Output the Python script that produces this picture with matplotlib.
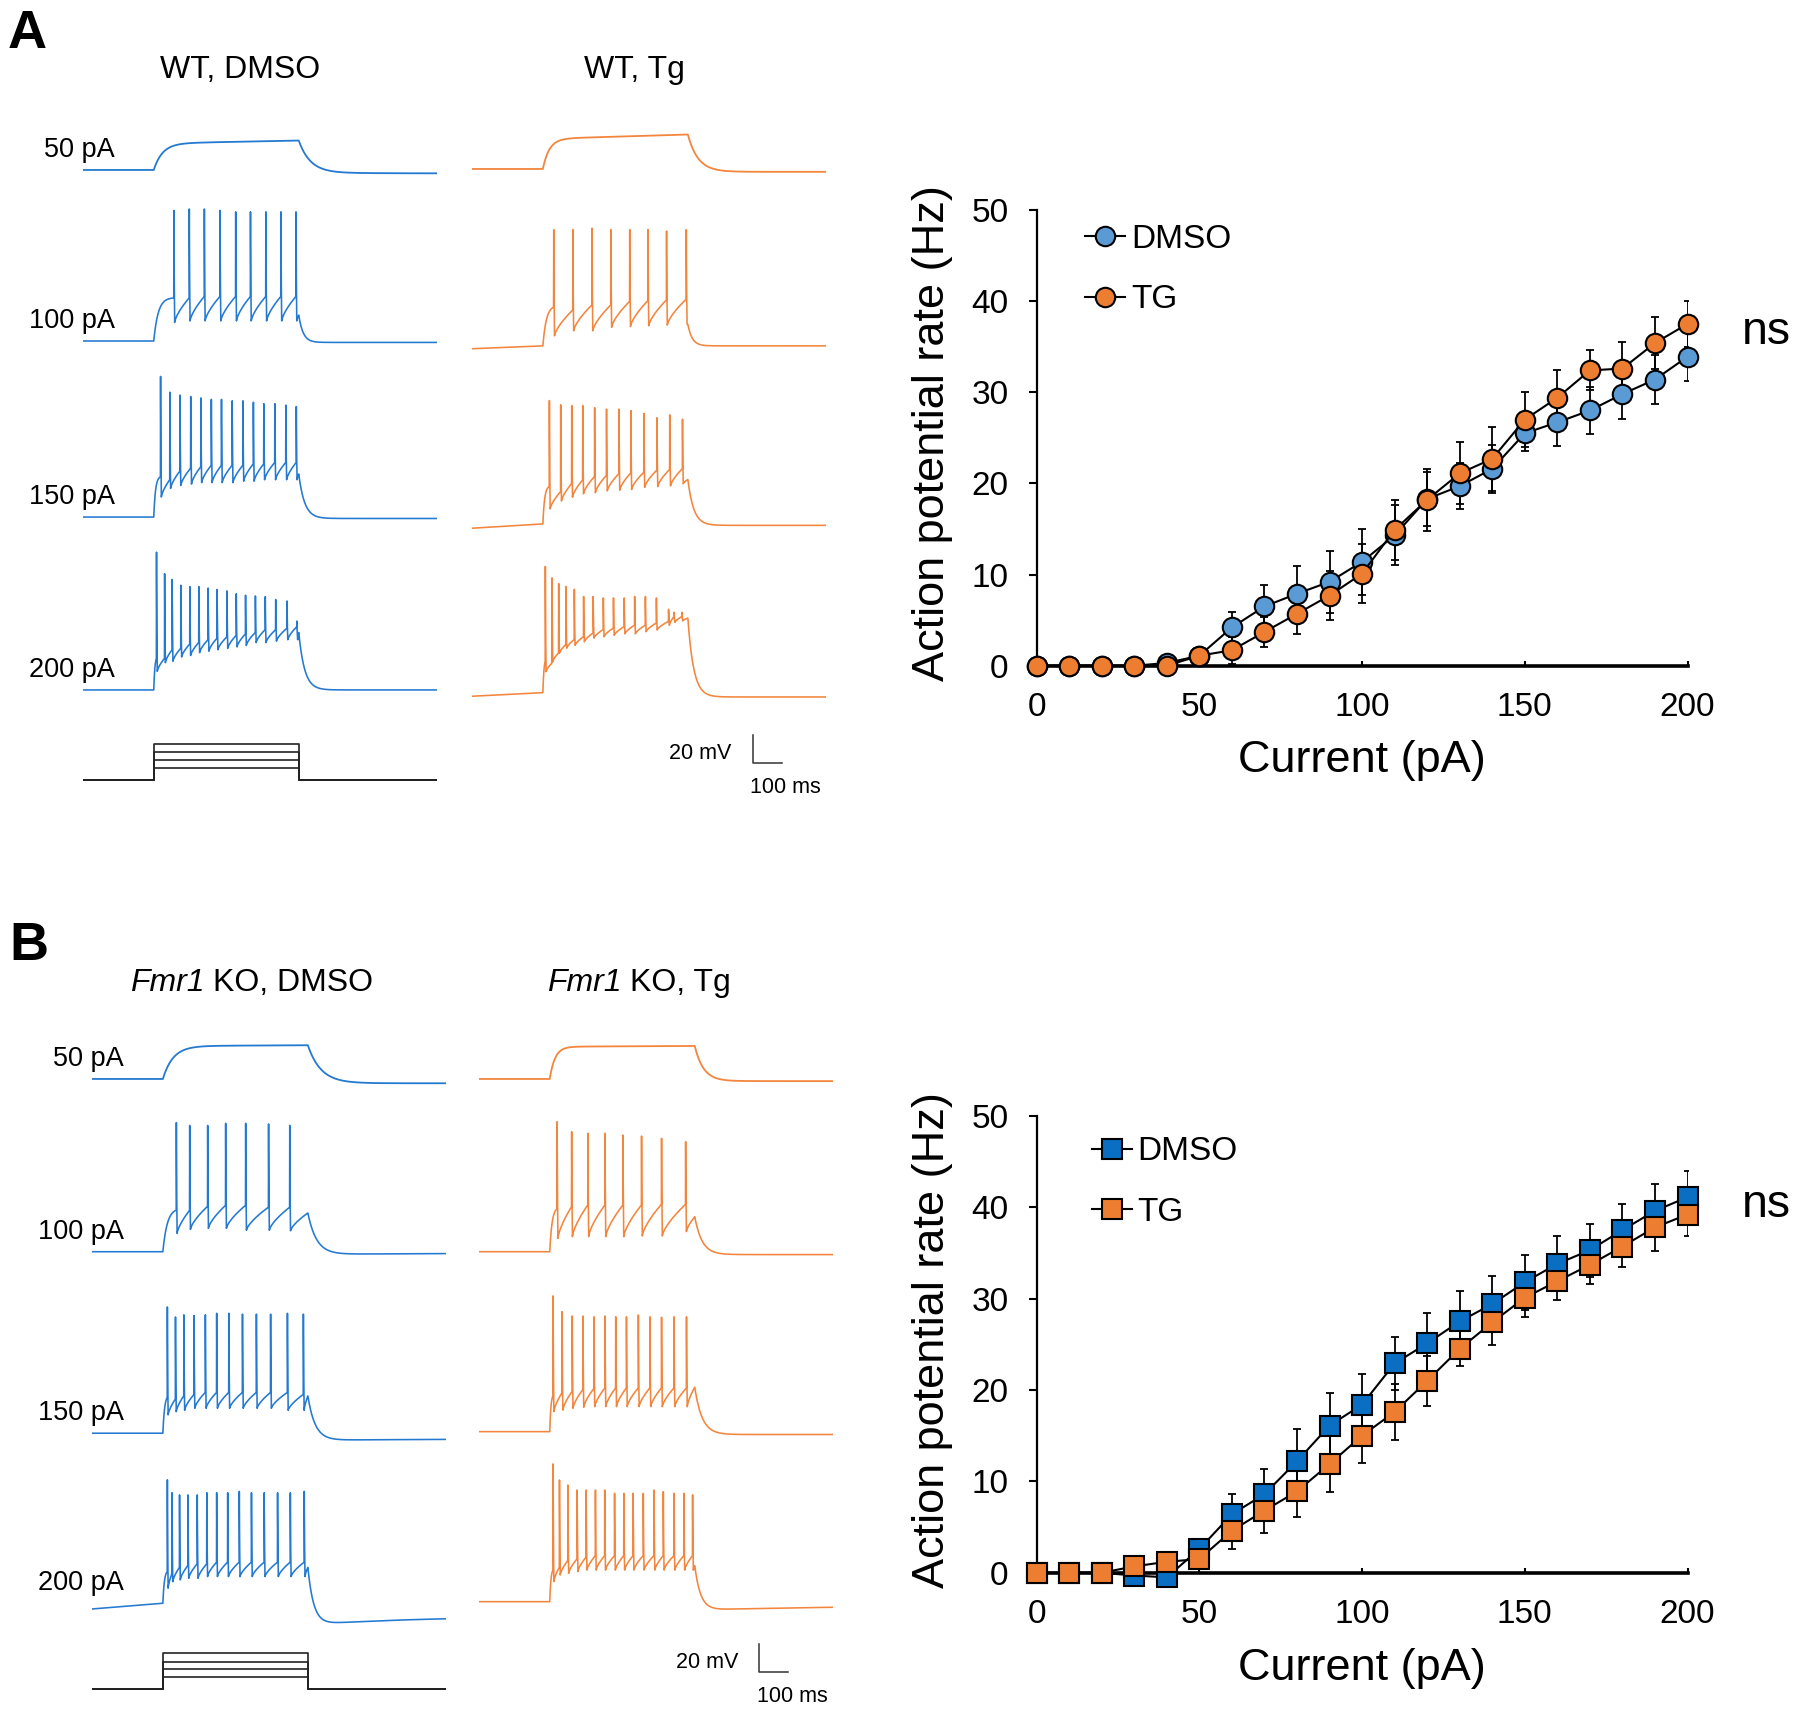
import numpy as np
import matplotlib
matplotlib.use('Agg')
import matplotlib.pyplot as plt

plt.rcParams['font.family'] = ['Liberation Sans', 'DejaVu Sans']

# ---------------- F-I curve data ----------------
current = [0, 10, 20, 30, 40, 50, 60, 70, 80, 90, 100, 110, 120, 130, 140, 150, 160, 170, 180, 190, 200]

wt_dmso = [0, 0, 0, 0, 0.3, 1.1, 4.2, 6.5, 7.9, 9.2, 11.4, 14.3, 18.3, 19.7, 21.6, 25.5, 26.7, 28.0, 29.8, 31.4, 33.9]
wt_dmso_sem = [0, 0, 0, 0, 0.3, 0.5, 1.7, 2.4, 3.0, 3.4, 3.6, 3.3, 3.0, 2.5, 2.6, 1.9, 2.6, 2.6, 2.7, 2.7, 2.7]
wt_tg = [0, 0, 0, 0, 0, 1.1, 1.7, 3.7, 5.7, 7.7, 10.1, 14.9, 18.2, 21.1, 22.7, 27.0, 29.4, 32.4, 32.6, 35.4, 37.5]
wt_tg_sem = [0, 0, 0, 0, 0, 0.5, 1.5, 1.6, 2.2, 2.7, 3.2, 3.3, 3.4, 3.4, 3.5, 3.0, 3.0, 2.2, 2.9, 2.9, 2.5]

ko_dmso = [0, 0, 0, -0.3, -0.5, 2.6, 6.4, 8.6, 12.2, 16.1, 18.4, 22.9, 25.1, 27.5, 29.4, 31.8, 33.8, 35.3, 37.5, 39.6, 41.1]
ko_dmso_sem = [0, 0, 0, 0.3, 0.3, 0.8, 2.2, 2.8, 3.5, 3.6, 3.3, 2.9, 3.3, 3.3, 3.1, 3.0, 3.0, 2.9, 2.8, 2.9, 2.9]
ko_tg = [0, 0, 0, 0.7, 1.2, 1.5, 4.6, 6.8, 8.9, 11.9, 15.0, 17.6, 21.0, 24.5, 27.4, 30.1, 31.9, 33.7, 35.7, 37.8, 39.2]
ko_tg_sem = [0, 0, 0, 0.5, 0.5, 0.8, 2.0, 2.5, 2.8, 3.1, 3.0, 3.1, 2.7, 1.9, 2.5, 2.1, 2.0, 2.1, 2.2, 2.6, 2.4]

xticks = [0, 50, 100, 150, 200]
yticks = [0, 10, 20, 30, 40, 50]
step_labels = ['50 pA', '100 pA', '150 pA', '200 pA']

# ---------------- example traces ----------------
# 50 pA passive responses: plateau start / end (mV above rest)
wt_dmso_plateau = [18.5, 20.5]
wt_tg_plateau = [21.0, 24.0]
ko_dmso_plateau = [23.0, 23.5]
ko_tg_plateau = [22.5, 23.0]

# spike times (ms after step onset), peak and trough (mV above rest) for 100/150/200 pA
wt_dmso_spk = [[69, 122, 174, 228, 282, 333, 386, 438, 490],
               [23, 55, 90, 127, 162, 198, 233, 270, 307, 343, 379, 417, 455, 491],
               [9, 37, 63, 93, 124, 155, 187, 218, 252, 284, 316, 350, 384, 420, 459, 493]]
wt_dmso_pk = [[91, 92, 92, 91, 90, 90, 90, 90, 90],
              [98, 87, 85, 84, 83, 82, 82, 81, 81, 80, 79, 79, 78, 77],
              [96, 81, 77, 73, 72, 72, 71, 70, 69, 67, 66, 65.5, 65, 63, 62, 48]]
wt_dmso_tr = [[13, 14, 14, 14, 14, 14, 14, 14, 14],
              [14, 20, 22, 23, 24, 24, 24, 24, 25, 25, 26, 26, 26, 26],
              [13, 19, 20, 23, 24, 26, 27, 28, 29, 30, 31, 33, 33, 34, 35, 35]]

wt_tg_spk = [[37, 103, 169, 234, 299, 362, 426, 494],
             [22, 61, 99, 137, 178, 219, 262, 303, 348, 393, 437, 481],
             [8, 31, 54, 79, 108, 140, 173, 208, 243, 280, 316, 353, 391, 433, 452, 479]]
wt_tg_pk = [[81, 81, 82, 81, 81, 81, 80, 81],
            [86, 83, 82.5, 82.5, 81, 80, 80, 79, 77, 74, 76, 73],
            [88, 80, 76, 74, 72, 67, 67, 66, 66, 66, 67, 67, 66, 58, 56, 56]]
wt_tg_tr = [[7, 10.5, 10.5, 13, 13.5, 14, 14.5, 15],
            [10.5, 16, 18.6, 21, 21.8, 23, 23.5, 24, 25.5, 26, 26.5, 28],
            [14.6, 21.6, 27.5, 31, 33, 35.5, 38, 39, 40, 41, 41, 42.5, 43.7, 47, 49, 50]]

ko_dmso_spk = [[46, 92, 154, 216, 285, 364, 437],
               [15, 43, 72, 107, 146, 185, 227, 274, 322, 371, 429, 484],
               [15, 31, 57, 86, 118, 151, 185, 223, 263, 305, 349, 395, 439, 487]]
ko_dmso_pk = [[90, 88, 88, 89.5, 89.5, 89, 88],
              [88, 81, 82.5, 82, 82.5, 83.6, 83.6, 83, 83, 83, 83.6, 83],
              [86, 77, 75.5, 75.5, 75.5, 77, 77, 77, 78, 77, 77, 77, 77, 78]]
ko_dmso_tr = [[12.8, 15.6, 16.3, 16.3, 15, 15, 14.6],
              [12.8, 15, 16, 17.4, 17.4, 17.4, 17.4, 17.4, 17.4, 17.4, 16, 16],
              [10.5, 15, 16.3, 17.4, 17.4, 18.6, 18.6, 18.6, 18.6, 18.6, 18.6, 18.6, 18.6, 18.6]]

ko_tg_spk = [[25, 75, 131, 190, 252, 316, 385, 468],
             [11, 42, 77, 114, 152, 190, 227, 264, 305, 345, 385, 428, 471],
             [11, 33, 62, 94, 125, 157, 189, 223, 255, 287, 322, 359, 391, 428, 462, 492]]
ko_tg_pk = [[90.6, 83.6, 82.5, 82.5, 81.3, 80.6, 79, 76.7],
            [94.6, 83.6, 80.6, 80.6, 80, 80.6, 80, 80, 81.3, 80, 79.7, 80, 80],
            [96, 84.8, 81.3, 77.8, 77.8, 77.8, 77.8, 75.5, 75.5, 75.5, 75.5, 77.8, 76.7, 75.5, 75.5, 74.4]]
ko_tg_tr = [[9.3, 10.5, 10.5, 10.5, 10.5, 11, 11, 14],
            [14, 15, 16.3, 17, 17.4, 17.4, 17.4, 17.4, 17.4, 17.4, 17.4, 17.4, 17.4],
            [14, 18.6, 19.8, 21, 22, 22, 22, 22, 22, 22, 22, 22, 22, 22, 22, 22]]

# waveform shape descriptors per row (50, 100, 150, 200 pA):
# first-spike threshold, ramp height, level at step end, rise tau, decay tau,
# post-step undershoot, final rest, pre-step drift
wt_dmso_shape = [(0, 0, 0, 30, 40, -2, -2.5, 0), (30, 17, 18, 15, 15, -1, -1, 0),
                 (28, 12, 30, 6, 20, -1, -1, 0), (22, 9, 40, 4, 20, 0, 0, 0)]
wt_tg_shape = [(0, 0, 0, 22, 35, -2, -2, 0), (27, 18, 15, 12, 15, 0, 0, -2),
               (26, 12, 31, 6, 20, -1, -1, -3), (22, 6, 52, 4, 20, -3, -3, -2.5)]
ko_dmso_shape = [(0, 0, 0, 35, 45, -3, -3, 0), (29, 16, 27, 15, 30, -2, -1, 0),
                 (25, 11, 26, 6, 25, -5, -4, 0), (22, 10, 25, 5, 20, -15, -9, -4)]
ko_tg_shape = [(0, 0, 0, 18, 30, -1.5, -1.5, 0), (30, 22, 24.4, 8, 25, -2, -2, 0),
               (25, 13, 31, 4, 25, -2, -2, 0), (22, 10, 25, 4, 20, -6, -3, 0)]

# vertical placement of each row (mV)
wt_dmso_rows = [0, -119.2, -241.9, -362.4]
wt_tg_rows = [0.7, -122.6, -246.7, -364.3]
ko_dmso_rows = [0, -120.4, -246.9, -365.4]
ko_tg_rows = [0, -120.4, -245.8, -364.3]
stim_levels = [8, 13.5, 19, 25]
STIM_ROW = -425

T_END, ON, DUR = 1220.0, 245.0, 500.0
t = np.arange(0, T_END, 0.2)

BLUE_TR = '#2479d1'
ORANGE_TR = '#f3863e'
A_BLUE = '#5b9bd5'
B_BLUE = '#0a6fc2'
ORANGE = '#ed7d31'


def pre_and_post(v, v_end, decay, under, final, drift):
    off = ON + DUR
    pre = t < ON
    v[pre] = drift * (ON - t[pre]) / ON
    m = t >= off
    dt = t[m] - off
    u = final + (under - final) * np.exp(-dt / 400.0)
    v[m] = u + (v_end - u) * np.exp(-dt / decay)
    return v


def passive_trace(plateau, shape):
    _, _, _, rise, decay, under, final, drift = shape
    v = np.zeros_like(t)
    m = (t >= ON) & (t < ON + DUR)
    lvl = plateau[0] + (plateau[1] - plateau[0]) * (t[m] - ON) / DUR
    v[m] = lvl * (1 - np.exp(-(t[m] - ON) / rise))
    v_end = plateau[1] * (1 - np.exp(-DUR / rise))
    return pre_and_post(v, v_end, decay, under, final, drift)


def spiking_trace(spk, pk, tr, shape):
    thr0, delta, end, rise, decay, under, final, drift = shape
    v = np.zeros_like(t)
    off = ON + DUR
    sa = [ON + s for s in spk]
    m = (t >= ON) & (t < sa[0])
    norm = 1 - np.exp(-(sa[0] - ON) / rise)
    v[m] = thr0 * (1 - np.exp(-(t[m] - ON) / rise)) / norm
    up, down = 0.6, 2.6
    for k, ts in enumerate(sa):
        thr = thr0 if k == 0 else min(tr[k - 1] + delta, pk[k] - 3)
        m = (t >= ts) & (t < ts + up)
        v[m] = thr + (pk[k] - thr) * (t[m] - ts) / up
        m = (t >= ts + up) & (t < ts + up + down)
        v[m] = pk[k] + (tr[k] - pk[k]) * ((t[m] - ts - up) / down) ** 0.6
        ta = ts + up + down
        if k + 1 < len(sa):
            tb = sa[k + 1]
            target = min(tr[k] + delta, pk[k + 1] - 3)
        else:
            tb = off
            target = end
        m = (t >= ta) & (t < tb)
        v[m] = tr[k] + (target - tr[k]) * ((t[m] - ta) / (tb - ta)) ** 0.7
    return pre_and_post(v, end, decay, under, final, drift)


FIG_W = 1800
fig = plt.figure(figsize=(18, 17.14), dpi=100)

TR_YLIM = (-439.1, 41.8)
trace_axes = {
    'wt_dmso': [0.04594, 0.53326, 0.19656, 0.40257],
    'wt_tg': [0.26211, 0.53326, 0.19656, 0.40257],
    'ko_dmso': [0.05100, 0.00292, 0.19656, 0.40257],
    'ko_tg': [0.26594, 0.00292, 0.19656, 0.40257],
}


def draw_column(key, plateau, spk, pk, tr, shapes, rows, color, labels=False, stim=False, scalebar=False):
    ax = fig.add_axes(trace_axes[key])
    ax.set_xlim(0, T_END)
    ax.set_ylim(*TR_YLIM)
    ax.axis('off')
    v = passive_trace(plateau, shapes[0])
    ax.plot(t, v + rows[0], color=color, lw=1.3, solid_joinstyle='round')
    for i in range(3):
        v = spiking_trace(spk[i], pk[i], tr[i], shapes[i + 1])
        ax.plot(t, v + rows[i + 1], color=color, lw=1.15, solid_joinstyle='round')
    if labels:
        for lab, r in zip(step_labels, rows):
            ax.text(110, r + 9, lab, ha='right', va='baseline', fontsize=19.5)
    if stim:
        for lvl in stim_levels:
            ax.plot([0, ON, ON, ON + DUR, ON + DUR, T_END],
                    [STIM_ROW, STIM_ROW, STIM_ROW + lvl, STIM_ROW + lvl, STIM_ROW, STIM_ROW],
                    color='#222222', lw=1.2)
    if scalebar:
        x0, y0 = 968, STIM_ROW + 11.4
        ax.plot([x0, x0, x0 + 100], [y0 + 20, y0, y0], color='#333333', lw=1.1)
        ax.text(x0 - 72, y0 + 3.2, '20 mV', ha='right', va='baseline', fontsize=15.5)
        ax.text(x0 + 112, y0 - 20.8, '100 ms', ha='center', va='baseline', fontsize=15.5)
    return ax


draw_column('wt_dmso', wt_dmso_plateau, wt_dmso_spk, wt_dmso_pk, wt_dmso_tr, wt_dmso_shape,
            wt_dmso_rows, BLUE_TR, labels=True, stim=True)
draw_column('wt_tg', wt_tg_plateau, wt_tg_spk, wt_tg_pk, wt_tg_tr, wt_tg_shape,
            wt_tg_rows, ORANGE_TR, scalebar=True)
draw_column('ko_dmso', ko_dmso_plateau, ko_dmso_spk, ko_dmso_pk, ko_dmso_tr, ko_dmso_shape,
            ko_dmso_rows, BLUE_TR, labels=True, stim=True)
draw_column('ko_tg', ko_tg_plateau, ko_tg_spk, ko_tg_pk, ko_tg_tr, ko_tg_shape,
            ko_tg_rows, ORANGE_TR, scalebar=True)

# titles and panel letters
TITLE_FS = 23
fig.text(0.1336, 0.9545, 'WT, DMSO', ha='center', va='baseline', fontsize=TITLE_FS)
fig.text(0.3527, 0.9545, 'WT, Tg', ha='center', va='baseline', fontsize=TITLE_FS)


def split_title(cx, y, italic_part, rest):
    t1 = fig.text(0, y, italic_part, ha='left', va='baseline', fontsize=TITLE_FS, style='italic')
    t2 = fig.text(0, y, rest, ha='left', va='baseline', fontsize=TITLE_FS)
    r = fig.canvas.get_renderer()
    w1 = t1.get_window_extent(r).width
    w2 = t2.get_window_extent(r).width
    sp = 0.278 * TITLE_FS * 100 / 72
    left = cx * FIG_W - (w1 + sp + w2) / 2
    t1.set_x(left / FIG_W)
    t2.set_x((left + w1 + sp) / FIG_W)


split_title(0.1397, 0.4220, 'Fmr1', 'KO, DMSO')
split_title(0.3550, 0.4220, 'Fmr1', 'KO, Tg')
fig.text(0.004, 0.9719, 'A', ha='left', va='baseline', fontsize=39, fontweight='bold')
fig.text(0.005, 0.4400, 'B', ha='left', va='baseline', fontsize=39, fontweight='bold')


def fi_panel(rect, yd, ed, yt, et, marker, cd, ms, leg_anchor, ns_y):
    ax = fig.add_axes(rect)
    ax.errorbar(current, yd, yerr=ed, fmt='none', ecolor='black', elinewidth=1.3,
                capsize=3, capthick=1.3, zorder=2)
    ax.errorbar(current, yt, yerr=et, fmt='none', ecolor='black', elinewidth=1.3,
                capsize=3, capthick=1.3, zorder=2)
    ax.plot(current, yd, '-', color='black', lw=1.5, marker=marker, ms=ms, mfc=cd,
            mec='black', mew=1.5, zorder=3, clip_on=False, label='DMSO')
    ax.plot(current, yt, '-', color='black', lw=1.5, marker=marker, ms=ms, mfc=ORANGE,
            mec='black', mew=1.5, zorder=5, clip_on=False, label='TG')
    ax.set_xlim(0, 200)
    ax.set_ylim(0, 50)
    ax.set_xticks(xticks)
    ax.set_yticks(yticks)
    for s in ['top', 'right']:
        ax.spines[s].set_visible(False)
    ax.spines['left'].set_linewidth(1.6)
    ax.spines['bottom'].set_linewidth(2.6)
    ax.spines['bottom'].set_zorder(1)
    ax.tick_params(axis='y', direction='out', length=5.8, width=1.5, pad=14.5, labelsize=24)
    ax.tick_params(axis='x', direction='in', length=3.6, width=1.5, pad=19, labelsize=24)
    ax.set_xlabel('Current (pA)', fontsize=32.5, va='center')
    ax.xaxis.set_label_coords(0.5, -0.209)
    ax.set_ylabel('Action potential rate (Hz)', fontsize=32.5, va='center')
    ax.yaxis.set_label_coords(-0.1607, 0.51)
    ax.legend(loc='upper left', bbox_to_anchor=leg_anchor, frameon=False, fontsize=24,
              handlelength=1.2, handletextpad=0.17, labelspacing=0.89, borderpad=0,
              borderaxespad=0, numpoints=1)
    ax.text(1.1206, ns_y, 'ns', transform=ax.transAxes, ha='center', va='baseline', fontsize=33.5)
    return ax


fi_panel([0.5759, 0.6116, 0.3616, 0.2659], wt_dmso, wt_dmso_sem, wt_tg, wt_tg_sem,
         'o', A_BLUE, 14, (0.075, 0.970), 0.705)
fi_panel([0.5759, 0.0824, 0.3616, 0.2666], ko_dmso, ko_dmso_sem, ko_tg, ko_tg_sem,
         's', B_BLUE, 14, (0.085, 0.955), 0.779)

fig.savefig('out.png', dpi=100, facecolor='white')
